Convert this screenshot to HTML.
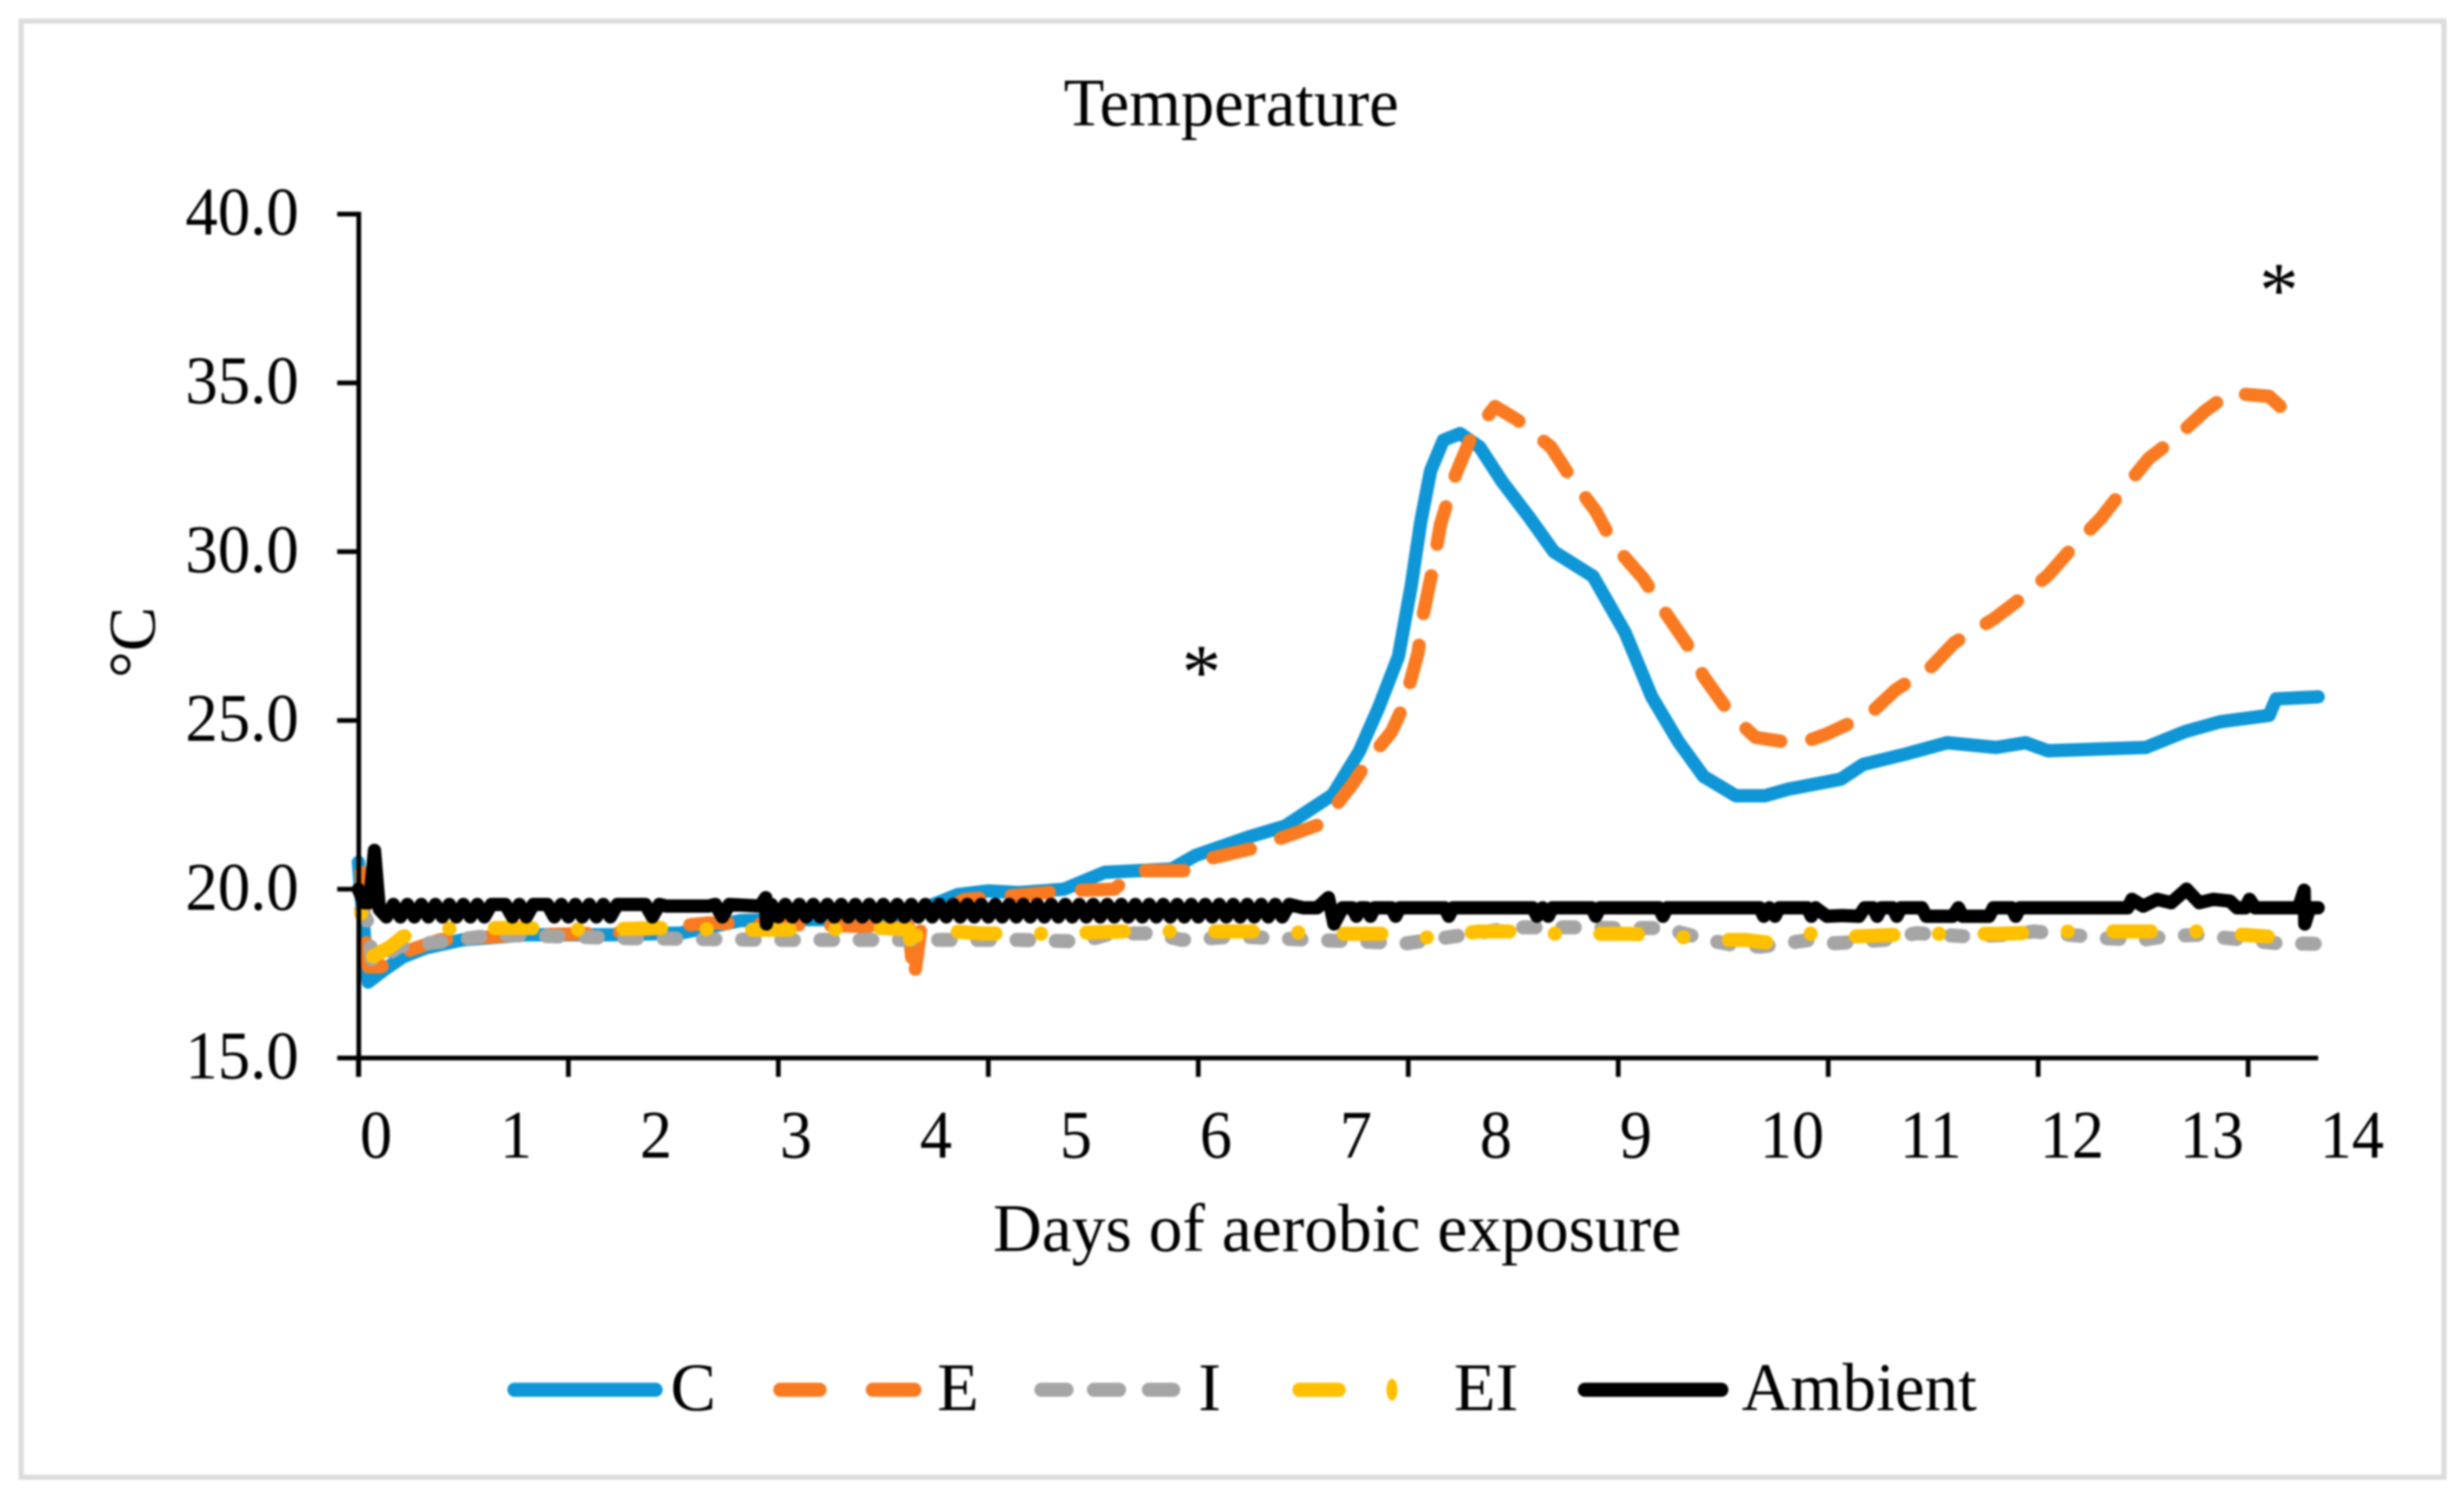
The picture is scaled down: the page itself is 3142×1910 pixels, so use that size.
<!DOCTYPE html>
<html lang="en">
<head>
<meta charset="utf-8">
<title>Temperature</title>
<style>
html,body{margin:0;padding:0;background:#fff;}
svg{display:block;filter:blur(1.2px);}
text{font-family:"Liberation Serif",serif;fill:#000;}
.series{fill:none;stroke-linejoin:round;stroke-linecap:round;}
</style>
</head>
<body>
<svg id="chart" width="3142" height="1910" viewBox="0 0 3142 1910" xmlns="http://www.w3.org/2000/svg">
  <rect x="0" y="0" width="3142" height="1910" fill="#fff"/>
  <rect x="27" y="27" width="3089.5" height="1856.5" fill="none" stroke="#dcdcdc" stroke-width="6.5"/>
  <text transform="translate(1570,160) scale(.975,1)" font-size="87" text-anchor="middle">Temperature</text>

  <path id="series-c" class="series" stroke="#0E96D7" stroke-width="17"/>
  <path id="series-e" class="series" stroke="#F97A20" stroke-width="17" stroke-dasharray="49 41"/>
  <path id="series-i" class="series" stroke="#A5A5A5" stroke-width="18" stroke-dasharray="16 34"/>
  <path id="series-ei" class="series" stroke="#FFC000" stroke-width="18" stroke-dasharray="48 58 0.1 58" stroke-dashoffset="-72"/>
  <path id="series-ambient" class="series" stroke="#000" stroke-width="17"/>

  <line x1="457.5" y1="270" x2="457.5" y2="1373" stroke="#000" stroke-width="6"/>
  <line x1="430" y1="1349" x2="2956" y2="1349" stroke="#000" stroke-width="6"/>
  <g id="y-axis"></g>
  <g id="x-axis"></g>

  <text transform="translate(197,819) rotate(-90)" font-size="85" text-anchor="middle">°C</text>
  <text transform="translate(1705,1595) scale(.99,1)" font-size="87" text-anchor="middle">Days of aerobic exposure</text>
  <text x="1532" y="890" font-size="100" text-anchor="middle">*</text>
  <text x="2906" y="403" font-size="100" text-anchor="middle">*</text>

  <g>
    <g>
      <line x1="656" y1="1772" x2="836" y2="1772" stroke="#0E96D7" stroke-width="18" stroke-linecap="round"/>
      <text transform="translate(855,1798)" font-size="87">C</text>
    </g>
    <g>
      <line x1="995" y1="1772" x2="1045" y2="1772" stroke="#F97A20" stroke-width="18" stroke-linecap="round"/>
      <line x1="1113" y1="1772" x2="1166" y2="1772" stroke="#F97A20" stroke-width="18" stroke-linecap="round"/>
      <text transform="translate(1195,1798)" font-size="87">E</text>
    </g>
    <g>
      <line x1="1328" y1="1772" x2="1360" y2="1772" stroke="#A5A5A5" stroke-width="18" stroke-linecap="round"/>
      <line x1="1395" y1="1772" x2="1427" y2="1772" stroke="#A5A5A5" stroke-width="18" stroke-linecap="round"/>
      <line x1="1465" y1="1772" x2="1496" y2="1772" stroke="#A5A5A5" stroke-width="18" stroke-linecap="round"/>
      <text transform="translate(1528,1798)" font-size="87">I</text>
    </g>
    <g>
      <line x1="1657" y1="1772" x2="1707" y2="1772" stroke="#FFC000" stroke-width="18" stroke-linecap="round"/>
      <ellipse cx="1775" cy="1772" rx="7" ry="14" fill="#FFC000"/>
      <text transform="translate(1854,1798)" font-size="87">EI</text>
    </g>
    <g>
      <line x1="2021" y1="1772" x2="2195" y2="1772" stroke="#000" stroke-width="18" stroke-linecap="round"/>
      <text transform="translate(2221,1798) scale(.985,1)" font-size="87">Ambient</text>
    </g>
  </g>
</svg>
<script>
var yTicks = [15, 20, 25, 30, 35, 40];
var xTicks = [0, 1.5, 3, 4.5, 6, 7.5, 9, 10.5, 12, 13.5];
var xLabels = [0, 1, 2, 3, 4, 5, 6, 7, 8, 9, 10, 11, 12, 13, 14];

var cDays = [0, 0.07, 0.18, 0.32, 0.48, 0.74, 1.2, 1.8, 2.3, 2.73, 3.0, 3.5, 3.9, 4.28, 4.5, 4.72, 5.04, 5.33, 5.81, 5.98, 6.36, 6.62, 6.96, 7.15, 7.29, 7.43, 7.52, 7.59, 7.66, 7.75, 7.87, 8.01, 8.17, 8.36, 8.54, 8.82, 9.05, 9.24, 9.43, 9.61, 9.84, 10.05, 10.21, 10.59, 10.75, 11.05, 11.35, 11.7, 11.91, 12.07, 12.77, 13.05, 13.3, 13.65, 13.7, 14];
var cTemps = [20.8, 17.25, 17.6, 18.0, 18.26, 18.5, 18.65, 18.65, 18.7, 19.07, 19.1, 19.1, 19.2, 19.84, 19.95, 19.9, 20.0, 20.5, 20.6, 21.0, 21.55, 21.87, 22.8, 24.08, 25.4, 26.9, 28.96, 30.9, 32.4, 33.3, 33.5, 33.1, 32.08, 31.04, 30.0, 29.27, 27.6, 25.7, 24.37, 23.34, 22.77, 22.77, 22.96, 23.26, 23.7, 24.0, 24.34, 24.2, 24.34, 24.1, 24.2, 24.67, 24.96, 25.15, 25.64, 25.7];

var eDays = [0.02, 0.07, 0.16, 0.3, 0.58, 1.2, 1.8, 2.5, 3.1, 3.6, 3.93, 3.97, 4.02, 4.2, 4.33, 4.79, 5.07, 5.4, 5.56, 5.91, 6.07, 6.38, 6.65, 6.88, 7.1, 7.22, 7.38, 7.47, 7.57, 7.61, 7.68, 7.73, 7.84, 7.95, 8.12, 8.28, 8.52, 8.66, 8.84, 8.97, 9.18, 9.32, 9.49, 9.61, 9.8, 9.98, 10.29, 10.49, 10.8, 10.98, 11.24, 11.4, 11.68, 11.84, 12.07, 12.24, 12.45, 12.6, 12.79, 12.99, 13.19, 13.37, 13.65, 13.81];
var eTemps = [20.5, 17.7, 17.7, 18.1, 18.5, 18.65, 18.7, 19.0, 18.95, 18.9, 18.9, 17.33, 18.9, 19.4, 19.7, 19.85, 19.96, 20.0, 20.55, 20.55, 20.9, 21.2, 21.6, 21.94, 23.1, 23.85, 24.66, 25.47, 27.0, 28.2, 29.6, 30.8, 32.3, 33.4, 34.3, 33.9, 33.1, 32.2, 31.2, 30.2, 29.2, 28.3, 27.27, 26.3, 25.2, 24.5, 24.3, 24.6, 25.2, 25.9, 26.6, 27.3, 28.0, 28.5, 29.3, 30.1, 31.0, 31.8, 32.76, 33.4, 34.16, 34.7, 34.6, 34.0];

var iDays = [0.02, 0.07, 0.1, 0.29, 0.71, 0.97, 1.93, 2.96, 4.18, 4.72, 5.17, 5.37, 5.68, 5.88, 6.28, 6.81, 7.17, 7.49, 8.07, 8.26, 8.68, 9.0, 9.32, 9.64, 9.83, 10.02, 10.37, 10.55, 10.9, 11.13, 11.5, 11.78, 11.97, 12.48, 12.74, 12.9, 13.13, 13.48, 13.71, 14];
var iTemps = [19.4, 19.0, 17.8, 18.3, 18.5, 18.65, 18.55, 18.5, 18.5, 18.5, 18.45, 18.68, 18.7, 18.5, 18.6, 18.5, 18.45, 18.4, 18.75, 18.87, 18.87, 18.85, 18.85, 18.5, 18.34, 18.3, 18.5, 18.4, 18.5, 18.7, 18.6, 18.65, 18.75, 18.55, 18.5, 18.6, 18.65, 18.5, 18.4, 18.38];

var eiDays = [0, 0.1, 0.23, 0.32, 0.67, 1.19, 1.63, 2.16, 2.69, 3.22, 3.75, 3.93, 3.97, 3.99, 4.08, 4.45, 4.95, 5.46, 5.99, 6.52, 6.94, 7.39, 7.68, 8.0, 8.21, 8.58, 9.08, 9.4, 9.71, 9.91, 10.11, 10.39, 10.69, 11.16, 11.71, 12.23, 12.64, 13.14, 13.64];
var eiTemps = [19.6, 18.0, 18.3, 18.6, 18.85, 18.85, 18.8, 18.85, 18.8, 18.8, 18.85, 18.8, 17.9, 18.75, 18.8, 18.69, 18.68, 18.75, 18.75, 18.75, 18.68, 18.68, 18.55, 18.75, 18.75, 18.68, 18.68, 18.6, 18.5, 18.5, 18.4, 18.7, 18.6, 18.68, 18.68, 18.75, 18.75, 18.75, 18.6];

var ambientDays = [0, 0.04, 0.08, 0.115, 0.15,
  0.2, 0.25, 0.3, 0.35, 0.4, 0.45, 0.5, 0.55, 0.6, 0.65, 0.7, 0.75, 0.8, 0.85, 0.9, 0.95,
  1.05, 1.1, 1.15, 1.2, 1.25, 1.35, 1.4, 1.45, 1.5, 1.55, 1.6, 1.65, 1.7, 1.75, 1.8, 1.85,
  2.05, 2.1, 2.15, 2.2, 2.5, 2.55, 2.6, 2.65, 2.87, 2.91, 2.915, 2.95,
  3.0, 3.05, 3.1, 3.15, 3.2, 3.25, 3.3, 3.35, 3.4, 3.45,
  3.5, 3.55, 3.6, 3.65, 3.7, 3.75, 3.8, 3.85, 3.9, 3.95,
  4.0, 4.05, 4.1, 4.15, 4.2, 4.25, 4.3, 4.35, 4.4, 4.45,
  4.5, 4.55, 4.6, 4.65, 4.7, 4.75, 4.8, 4.85, 4.9, 4.95,
  5.0, 5.05, 5.1, 5.15, 5.2, 5.25, 5.3, 5.35, 5.4, 5.45,
  5.5, 5.55, 5.6, 5.65, 5.7, 5.75, 5.8, 5.85, 5.9, 5.95,
  6.0, 6.05, 6.1, 6.15, 6.2, 6.25, 6.3, 6.35, 6.4, 6.45,
  6.5, 6.55, 6.6, 6.65,
  6.75, 6.85, 6.93, 6.97, 7.03, 7.1, 7.13, 7.16, 7.2, 7.23, 7.26, 7.38, 7.41, 7.44, 7.76, 7.79, 7.82, 8.39, 8.42, 8.46, 8.5, 8.53, 8.81, 8.84, 8.87, 9.29, 9.32, 9.35, 10.01, 10.04, 10.08, 10.12, 10.15, 10.35, 10.38, 10.41, 10.49, 10.6, 10.72, 10.76, 10.82, 10.85, 10.88, 10.96, 10.99, 11.02, 11.17, 11.2, 11.39, 11.43, 11.46, 11.65, 11.68, 11.81, 11.84, 11.87, 12.64, 12.67, 12.75, 12.85, 12.95, 13.06, 13.15, 13.25, 13.37, 13.42, 13.48, 13.51, 13.55, 13.86, 13.9, 13.905, 13.94, 14];
var ambientTemps = [20.0, 19.6, 19.6, 21.15, 19.4,
  19.18, 19.55, 19.18, 19.55, 19.18, 19.55, 19.18, 19.55, 19.18, 19.55, 19.18, 19.55, 19.18, 19.55, 19.18, 19.55,
  19.55, 19.18, 19.55, 19.18, 19.55, 19.55, 19.18, 19.55, 19.18, 19.55, 19.18, 19.55, 19.18, 19.55, 19.18, 19.55,
  19.55, 19.18, 19.55, 19.5, 19.5, 19.55, 19.18, 19.55, 19.5, 19.75, 18.97, 19.55,
  19.18, 19.55, 19.18, 19.55, 19.18, 19.55, 19.18, 19.55, 19.18, 19.55,
  19.18, 19.55, 19.18, 19.55, 19.18, 19.55, 19.18, 19.55, 19.18, 19.55,
  19.18, 19.55, 19.18, 19.55, 19.18, 19.55, 19.18, 19.55, 19.18, 19.55,
  19.18, 19.55, 19.18, 19.55, 19.18, 19.55, 19.18, 19.55, 19.18, 19.55,
  19.18, 19.55, 19.18, 19.55, 19.18, 19.55, 19.18, 19.55, 19.18, 19.55,
  19.18, 19.55, 19.18, 19.55, 19.18, 19.55, 19.18, 19.55, 19.18, 19.55,
  19.18, 19.55, 19.18, 19.55, 19.18, 19.55, 19.18, 19.55, 19.18, 19.55,
  19.18, 19.55, 19.18, 19.55,
  19.45, 19.45, 19.75, 18.97, 19.45, 19.45, 19.2, 19.45, 19.45, 19.2, 19.45, 19.45, 19.2, 19.45, 19.45, 19.2, 19.45, 19.45, 19.2, 19.45, 19.2, 19.45, 19.45, 19.2, 19.45, 19.45, 19.2, 19.45, 19.45, 19.2, 19.45, 19.2, 19.45, 19.45, 19.2, 19.45, 19.2, 19.22, 19.2, 19.45, 19.45, 19.2, 19.45, 19.45, 19.2, 19.45, 19.45, 19.2, 19.2, 19.45, 19.2, 19.2, 19.45, 19.45, 19.2, 19.45, 19.45, 19.7, 19.5, 19.7, 19.6, 20.0, 19.6, 19.7, 19.65, 19.45, 19.45, 19.7, 19.45, 19.45, 19.97, 18.97, 19.45, 19.45];

var SVG_NS = 'http://www.w3.org/2000/svg';
var X_ORIGIN = 457, X_PER_DAY = 178.5, Y_ORIGIN = 1349, Y_PER_DEGREE = 43.04;

function xScale(day) { return X_ORIGIN + day * X_PER_DAY; }
function yScale(temp) { return Y_ORIGIN - (temp - 15) * Y_PER_DEGREE; }

function linePath(days, temps) {
  var parts = [];
  for (var i = 0; i < days.length; i++) {
    parts.push((i === 0 ? 'M' : 'L') + xScale(days[i]).toFixed(1) + ' ' + yScale(temps[i]).toFixed(1));
  }
  return parts.join(' ');
}

document.getElementById('series-c').setAttribute('d', linePath(cDays, cTemps));
document.getElementById('series-e').setAttribute('d', linePath(eDays, eTemps));
document.getElementById('series-i').setAttribute('d', linePath(iDays, iTemps));
document.getElementById('series-ei').setAttribute('d', linePath(eiDays, eiTemps));
document.getElementById('series-ambient').setAttribute('d', linePath(ambientDays, ambientTemps));

var yAxis = document.getElementById('y-axis');
yTicks.forEach(function (value) {
  var tick = document.createElementNS(SVG_NS, 'line');
  
  
  tick.setAttribute('x1', 430);
  tick.setAttribute('x2', 457);
  tick.setAttribute('y1', yScale(value));
  tick.setAttribute('y2', yScale(value));
  tick.setAttribute('stroke', '#000');
  tick.setAttribute('stroke-width', 6);
  yAxis.appendChild(tick);

  var label = document.createElementNS(SVG_NS, 'text');
  
  
  label.setAttribute('transform', 'translate(381,' + (yScale(value) + 26) + ') scale(.95,1)');
  label.setAttribute('text-anchor', 'end');
  label.setAttribute('font-size', 87);
  label.textContent = value.toFixed(1);
  yAxis.appendChild(label);
});

var xAxis = document.getElementById('x-axis');
xTicks.forEach(function (value) {
  var tick = document.createElementNS(SVG_NS, 'line');
  
  
  tick.setAttribute('x1', xScale(value));
  tick.setAttribute('x2', xScale(value));
  tick.setAttribute('y1', 1349);
  tick.setAttribute('y2', 1373);
  tick.setAttribute('stroke', '#000');
  tick.setAttribute('stroke-width', 6);
  xAxis.appendChild(tick);
});
xLabels.forEach(function (value) {
  var label = document.createElementNS(SVG_NS, 'text');
  
  
  label.setAttribute('transform', 'translate(' + (xScale(value) + 2) + ',1476) scale(.943,1)');
  label.setAttribute('font-size', 87);
  label.textContent = String(value);
  xAxis.appendChild(label);
});
</script>
</body>
</html>
